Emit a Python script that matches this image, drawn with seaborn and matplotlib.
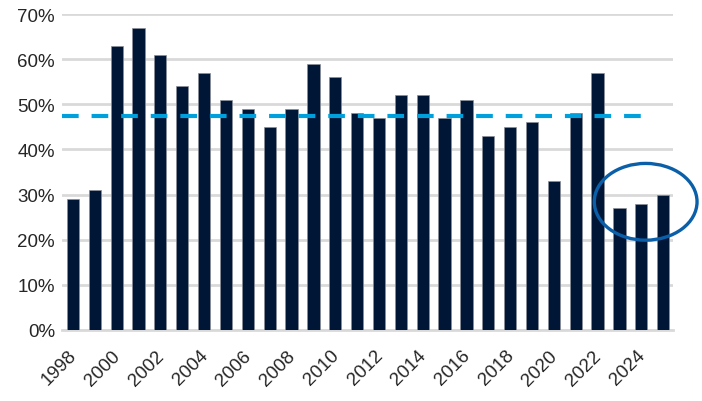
import matplotlib
matplotlib.use("Agg")
import matplotlib.pyplot as plt
import seaborn as sns
from matplotlib.patches import Ellipse
from matplotlib.transforms import ScaledTranslation

# data
years = list(range(1998, 2026))
shares = [29, 31, 63, 67, 61, 54, 57, 51, 49, 45, 49, 59, 56, 48, 47, 52,
          52, 47, 51, 43, 45, 46, 33, 48, 57, 27, 28, 30]
average = 47.4
tick_years = list(range(1998, 2026, 2))

sns.set_style("white")
plt.rcParams['font.family'] = ['Liberation Sans', 'DejaVu Sans']

fig = plt.figure(figsize=(7.02, 4.02), dpi=100)
ax = fig.add_axes([62 / 702, (402 - 331) / 402, (673 - 62) / 702, (331 - 15) / 402])

sns.barplot(x=years, y=shares, color="#001636", width=0.56, saturation=1,
            edgecolor="#8a8f99", linewidth=0.5, ax=ax, zorder=3)

# long-run average
ax.plot([-0.5, 26.35], [average, average], color="#00a0dc", lw=3.0,
        dashes=(4.0, 3.1), zorder=10)

# highlight the last three years
ax.add_patch(Ellipse((26.2, 28.4), 4.7, 17.0, fill=False, edgecolor="#0b5fa8",
                     lw=2.4, clip_on=False, zorder=11))

ax.set_xlim(-0.5, 27.45)
ax.set_ylim(0, 70)
ax.set_yticks(range(0, 71, 10))
ax.set_yticklabels([f"{v}%" for v in range(0, 71, 10)], fontsize=13.5)
ax.set_xticks([years.index(y) for y in tick_years])
ax.set_xticklabels([str(y) for y in tick_years], fontsize=13.5, rotation=45,
                   ha="right", rotation_mode="anchor")
ax.tick_params(axis="both", length=0, pad=5)
ax.tick_params(axis="x", pad=12)
shift = ScaledTranslation(-5 / 100, 0, fig.dpi_scale_trans)
for lab in ax.get_xticklabels():
    lab.set_transform(lab.get_transform() + shift)

ax.grid(axis="y", color="#d9d9d9", lw=2.0, zorder=0)
ax.set_axisbelow(True)
for side in ["top", "right", "left"]:
    ax.spines[side].set_visible(False)
ax.spines["bottom"].set_color("#d9d9d9")
ax.spines["bottom"].set_linewidth(2.0)
ax.set_xlabel("")
ax.set_ylabel("")

fig.savefig("out.png", dpi=100)
plt.close()
